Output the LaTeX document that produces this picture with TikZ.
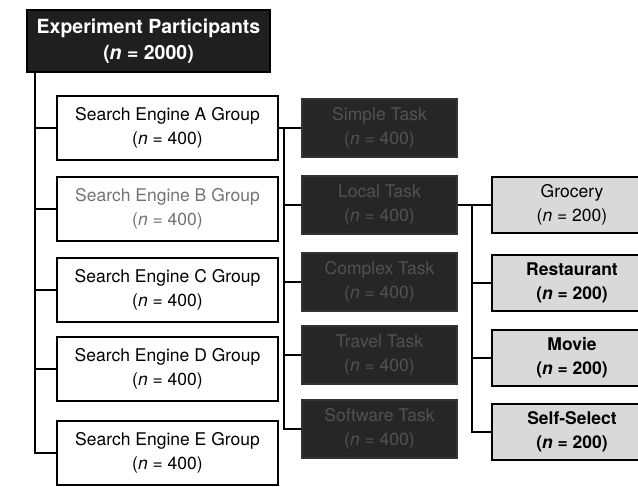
\documentclass[tikz,border=0pt]{standalone}
\usepackage{fontspec}
\setmainfont{TeX Gyre Heros}
\usepackage{tikz}
\newcommand{\nsize}[1]{(\textit{n} = #1)}

\begin{document}
\begin{tikzpicture}
[x=1pt, y=-1pt, line width=1.2pt,
 every node/.style={font=\fontsize{17.5}{24}\selectfont, align=center, inner sep=0pt},
 headbox/.style={draw=black, fill=black!88, text=white, font=\fontsize{19.5}{26}\selectfont\bfseries,
   minimum width=243pt, minimum height=62pt},
 groupbox/.style={draw=black, fill=white, minimum width=221pt, minimum height=64pt},
 taskbox/.style={draw=black!80, fill=black!85, text=black!68, minimum width=155pt, minimum height=58pt},
 topicbox/.style={draw=black, fill=black!15, minimum width=160pt, minimum height=56pt},
 boldtopic/.style={topicbox, font=\fontsize{17.5}{24}\selectfont\bfseries}]
\useasboundingbox[fill=white] (0,0) rectangle (638,487);
%% participants
\node[headbox] (head) at (148.5, 41) {Experiment Participants\\\nsize{2000}};
\coordinate (trunk) at (35, 72);
%% search engine groups
\node[groupbox] (grpA) at (167.5, 128) {Search Engine A Group\\\nsize{400}};
\node[groupbox, text=black!55] (grpB) at (167.5, 209) {Search Engine B Group\\\nsize{400}};
\node[groupbox] (grpC) at (167.5, 290) {Search Engine C Group\\\nsize{400}};
\node[groupbox] (grpD) at (167.5, 369) {Search Engine D Group\\\nsize{400}};
\node[groupbox] (grpE) at (167.5, 453) {Search Engine E Group\\\nsize{400}};
\draw (trunk) |- (grpE.west);
\foreach \g in {A,B,C,D}
  \draw (grp\g.west) -- (grp\g.west -| trunk);
%% tasks
\node[taskbox] (task1) at (379.5, 128) {Simple Task\\\nsize{400}};
\node[taskbox] (task2) at (379.5, 205) {Local Task\\\nsize{400}};
\node[taskbox] (task3) at (379.5, 282) {Complex Task\\\nsize{400}};
\node[taskbox] (task4) at (379.5, 355) {Travel Task\\\nsize{400}};
\node[taskbox] (task5) at (379.5, 429) {Software Task\\\nsize{400}};
\coordinate (tasktrunk) at (284, 128);
\draw (grpA.east) -- (task1.west);
\draw (tasktrunk) |- (task5.west);
\foreach \t in {2,3,4}
  \draw (task\t.west) -- (task\t.west -| tasktrunk);
%% local topics
\node[topicbox] (grocery) at (572, 205) {Grocery\\\nsize{200}};
\node[boldtopic] (restaurant) at (572, 283) {Restaurant\\\nsize{200}};
\node[boldtopic] (movie) at (572, 358) {Movie\\\nsize{200}};
\node[boldtopic] (selfsel) at (572, 432) {Self-Select\\\nsize{200}};
\coordinate (topictrunk) at (472, 205);
\draw (task2.east) -- (grocery.west);
\draw (topictrunk) |- (selfsel.west);
\foreach \p in {restaurant,movie}
  \draw (\p.west) -- (\p.west -| topictrunk);
\end{tikzpicture}
\end{document}
